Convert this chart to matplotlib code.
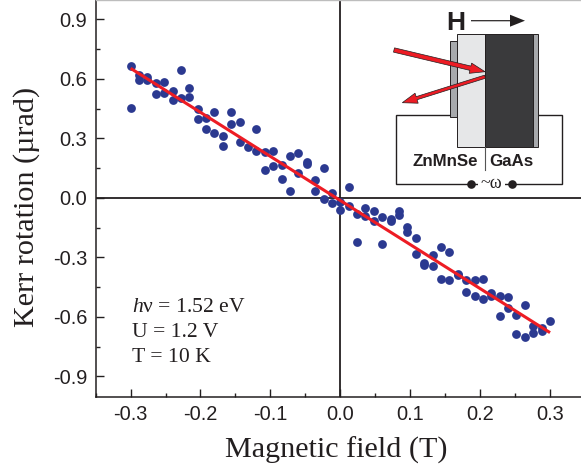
import matplotlib
matplotlib.use("Agg")
import matplotlib.pyplot as plt
from matplotlib.patches import Rectangle, Polygon, FancyArrow
from matplotlib.ticker import MultipleLocator

W, H = 581, 469
plt.rcParams['font.family'] = ['Liberation Sans', 'DejaVu Sans']
plt.rcParams['mathtext.fontset'] = 'custom'
plt.rcParams['mathtext.rm'] = 'Liberation Serif'
plt.rcParams['mathtext.it'] = 'Liberation Serif:italic'

field = [-0.300, -0.300, -0.288, -0.288, -0.276, -0.276, -0.264, -0.264, -0.252, -0.252,
         -0.240, -0.240, -0.228, -0.228, -0.216, -0.216, -0.204, -0.204, -0.192, -0.192,
         -0.180, -0.180, -0.168, -0.168, -0.156, -0.156, -0.144, -0.144, -0.132,
         -0.120, -0.120, -0.108, -0.108, -0.096, -0.096, -0.084, -0.084, -0.072, -0.072,
         -0.060, -0.060, -0.048, -0.048, -0.036, -0.036, -0.024, -0.024, -0.012, -0.012,
         0.000, 0.000, 0.012, 0.012, 0.024, 0.024, 0.036, 0.036, 0.048, 0.048,
         0.060, 0.060, 0.072, 0.072, 0.084, 0.084, 0.096, 0.096, 0.108, 0.108,
         0.120, 0.120, 0.132, 0.132, 0.144, 0.144, 0.156, 0.156, 0.168, 0.168,
         0.180, 0.180, 0.192, 0.192, 0.204, 0.204, 0.216, 0.216, 0.228, 0.228,
         0.240, 0.240, 0.252, 0.252, 0.264, 0.264, 0.276, 0.276, 0.288, 0.288, 0.300]
kerr = [0.663, 0.454, 0.621, 0.595, 0.609, 0.595, 0.578, 0.524, 0.585, 0.531,
        0.541, 0.494, 0.646, 0.503, 0.553, 0.508, 0.450, 0.398, 0.401, 0.347,
        0.435, 0.327, 0.310, 0.261, 0.432, 0.371, 0.381, 0.280, 0.258,
        0.349, 0.238, 0.233, 0.142, 0.234, 0.160, 0.165, 0.094, 0.212, 0.035,
        0.224, 0.123, 0.182, 0.169, 0.089, 0.035, 0.152, -0.008, 0.022, -0.025,
        -0.020, -0.060, 0.057, -0.040, -0.081, -0.223, -0.052, -0.094, -0.066, -0.116,
        -0.096, -0.233, -0.108, -0.115, -0.069, -0.086, -0.148, -0.174, -0.202, -0.285,
        -0.327, -0.339, -0.287, -0.346, -0.250, -0.408, -0.275, -0.417, -0.384, -0.391,
        -0.417, -0.476, -0.417, -0.496, -0.408, -0.508, -0.482, -0.494, -0.496, -0.597,
        -0.501, -0.556, -0.589, -0.688, -0.541, -0.702, -0.648, -0.680, -0.659, -0.673, -0.622]
fit_field = [-0.30, 0.30]
fit_kerr = [0.653, -0.680]

x_ticks = [-0.3, -0.2, -0.1, 0.0, 0.1, 0.2, 0.3]
y_ticks = [-0.9, -0.6, -0.3, 0.0, 0.3, 0.6, 0.9]
x_label = "Magnetic field (T)"
y_label = "Kerr rotation (\u00b5rad)"
conditions = ["$\\mathit{h}$\u03bd = 1.52 eV", "U = 1.2 V", "T = 10 K"]

INK = "#231f20"
BLUE = "#2b3990"
RED = "#ed1c24"
SERIF = "Liberation Serif"

fig = plt.figure(figsize=(W / 100, H / 100), dpi=100)
ax = fig.add_axes([95.5 / W, 1 - 396.5 / H, (W - 95.5) / W, 396.5 / H])
ax.set_xlim(-0.3502, 0.3443)
ax.set_ylim(-1.002, 0.9975)

ax.axhline(0, color=INK, lw=1.3, zorder=1)
ax.axvline(0, color=INK, lw=1.3, zorder=1)
ax.scatter(field, kerr, s=40, color=BLUE, linewidths=0, zorder=2)
ax.plot(fit_field, fit_kerr, color=RED, lw=2.2, solid_capstyle='butt', zorder=3)

ax.set_xticks(x_ticks)
ax.set_yticks(y_ticks)
ax.set_xticklabels(["0.0" if v == 0 else f"{v:.1f}" for v in x_ticks])
ax.set_yticklabels(["0.0" if v == 0 else f"{v:.1f}" for v in y_ticks])
ax.xaxis.set_minor_locator(MultipleLocator(0.05))
ax.yaxis.set_minor_locator(MultipleLocator(0.15))
ax.tick_params(which='major', direction='in', length=5.5, width=1, color=INK,
               labelsize=14.4, labelcolor=INK)
ax.tick_params(axis='x', which='major', pad=6)
ax.tick_params(axis='y', which='major', pad=6)
ax.tick_params(which='minor', direction='in', length=2.6, width=1, color=INK)
for lbl in ax.get_xticklabels():
    if lbl.get_text() == "0.0":
        lbl.set_visible(True)
for s in ('left', 'bottom'):
    ax.spines[s].set_linewidth(1.1)
    ax.spines[s].set_color(INK)
ax.spines['right'].set_visible(False)
ax.spines['top'].set_color("#bdbdbd")
ax.spines['top'].set_linewidth(1.0)

# overlay in pixel coordinates for the schematic inset and the free text
ov = fig.add_axes([0, 0, 1, 1], facecolor='none')
ov.set_xlim(0, W)
ov.set_ylim(H, 0)
ov.axis('off')

ax.set_xlabel(x_label, family=SERIF, fontsize=21.7, color=INK, va='baseline')
ax.xaxis.set_label_coords(336, 458, transform=ov.transData)
ax.set_ylabel(y_label, family=SERIF, fontsize=21.7, color=INK, va='center', ha='center')
ax.yaxis.set_label_coords(27, 207, transform=ov.transData)

for txt, base in zip(conditions, [312, 337, 362]):
    ov.text(132, base, txt, family=SERIF, fontsize=15.6, color=INK, va='baseline', ha='left')

# schematic
ov.plot([450, 396, 396, 561.7, 561.7, 537.7], [114.7, 114.7, 183.7, 183.7, 114.7, 114.7],
        color=INK, lw=1.0, zorder=1, solid_joinstyle='miter')
ov.add_patch(Rectangle((478, 178), 27, 10, fc='white', ec='none', zorder=2))
ov.add_patch(Rectangle((450.3, 41.3), 7, 76, fc="#a7a9ac", ec=INK, lw=0.7, zorder=3))
ov.add_patch(Rectangle((457.3, 34), 27.7, 113, fc="#e6e7e8", ec=INK, lw=0.7, zorder=3))
ov.add_patch(Rectangle((485, 34), 47.7, 113, fc="#3a3a3c", ec=INK, lw=0.7, zorder=3))
ov.add_patch(Rectangle((532.7, 34), 5, 113, fc="#a7a9ac", ec=INK, lw=0.7, zorder=3))
ov.plot([485, 485], [147, 170], color="#555555", lw=0.8, zorder=3)
ov.plot([471, 512], [183.7, 183.7], ls='none', marker='o', ms=6.2, color=INK, mew=0, zorder=4)
ov.text(491.7, 183, "~\u03c9", family=SERIF, fontsize=13, color=INK, ha='center', va='center', zorder=4)
ov.text(445, 165.5, "ZnMnSe", fontsize=12.2, weight='bold', color=INK, ha='center', va='baseline', zorder=4)
ov.text(511.5, 165.5, "GaAs", fontsize=12.2, weight='bold', color=INK, ha='center', va='baseline', zorder=4)
ov.text(456, 30.5, "H", fontsize=19, weight='bold', color=INK, ha='center', va='baseline', zorder=4)
ov.add_patch(FancyArrow(471, 20.7, 54, 0, width=1.2, head_width=12, head_length=15,
                        length_includes_head=True, fc=INK, ec='none', zorder=4))
ov.add_patch(FancyArrow(394, 50, 91, 21.7, width=4.4, head_width=10.5, head_length=15,
                        length_includes_head=True, fc=RED, ec=INK, lw=0.5, zorder=5))
ov.add_patch(FancyArrow(485, 76.7, -82.7, 26, width=3.2, head_width=10.5, head_length=15,
                        length_includes_head=True, fc=RED, ec=INK, lw=0.5, zorder=5))

fig.savefig("out.png", dpi=100)
